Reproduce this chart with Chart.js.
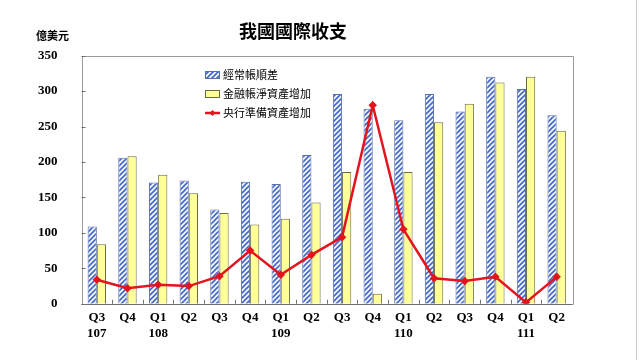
<!DOCTYPE html>
<html>
<head>
<meta charset="utf-8">
<script src="https://cdn.jsdelivr.net/npm/chart.js@4"></script>
<style>
  html, body { margin: 0; padding: 0; background: #fff; }
  #wrap { width: 640px; height: 360px; position: relative; }
  #edge { position: absolute; left: 636px; top: 0; width: 1px; height: 360px; background: #c8c8c8; }
</style>
</head>
<body>
<div id="wrap"><canvas id="bopChart" width="640" height="360"></canvas><div id="edge"></div></div>
<script>
// quarters and ROC years
const quarters = ['Q3', 'Q4', 'Q1', 'Q2', 'Q3', 'Q4', 'Q1', 'Q2', 'Q3', 'Q4', 'Q1', 'Q2', 'Q3', 'Q4', 'Q1', 'Q2'];
const years = ['107', '', '108', '', '', '', '109', '', '', '', '110', '', '', '', '111', ''];
// 經常帳順差
const currentAccount = [109, 206, 171, 174, 133, 172, 169, 210, 296, 275, 259, 296, 271, 320, 303, 266];
// 金融帳淨資產增加
const financialAccount = [84, 208, 182, 156, 128, 112, 120, 143, 186, 14, 186, 256, 282, 312, 320, 244];
// 央行準備資產增加
const reserveAssets = [34, 22, 27, 25, 39, 75, 41, 69, 94, 280, 105, 36, 32, 38, 2, 38];
const yTicks = [0, 50, 100, 150, 200, 250, 300, 350];

const labels = quarters.map(function (q, i) { return years[i] ? [q, years[i]] : [q]; });

// hatched fill for the first series
function makeHatch() {
    const c = document.createElement('canvas');
    c.width = 5; c.height = 5;
    const g = c.getContext('2d');
    g.fillStyle = '#f2f5fc';
    g.fillRect(0, 0, 5, 5);
    g.strokeStyle = '#4468c8';
    g.lineWidth = 1.6;
    g.beginPath();
    g.moveTo(-1, 6); g.lineTo(6, -1);
    g.moveTo(-1, 1); g.lineTo(1, -1);
    g.moveTo(4, 6); g.lineTo(6, 4);
    g.stroke();
    return g.createPattern(c, 'repeat');
}
const hatch = makeHatch();

const serif = "'Liberation Serif', 'Times New Roman', serif";
const cjk = "'Noto Sans CJK TC', 'Noto Sans CJK SC', sans-serif";

const framePlugin = {
    id: 'frame',
    beforeDatasetsDraw: function (chart) {
        const c = chart.ctx;
        const a = chart.chartArea;
        c.save();
        c.lineWidth = 1;
        c.strokeStyle = '#9a9a9a';
        c.beginPath();
        c.rect(Math.round(a.left) + 0.5, Math.round(a.top) + 0.5,
            Math.round(a.right - a.left), Math.round(a.bottom - a.top));
        c.stroke();
        // small inner ticks
        c.strokeStyle = '#707070';
        c.beginPath();
        const y = chart.scales.y;
        yTicks.forEach(function (v) {
            const py = Math.round(y.getPixelForValue(v)) + 0.5;
            c.moveTo(a.left, py); c.lineTo(a.left + 4, py);
        });
        const n = quarters.length;
        const step = (a.right - a.left) / n;
        for (let i = 1; i < n; i++) {
            const px = Math.round(a.left + step * i) + 0.5;
            c.moveTo(px, a.bottom); c.lineTo(px, a.bottom - 4);
        }
        c.stroke();
        c.restore();
    },
    afterDraw: function (chart) {
        const c = chart.ctx;
        const a = chart.chartArea;
        c.save();
        // bottom axis line over the bars
        c.strokeStyle = '#707070';
        c.lineWidth = 1;
        c.beginPath();
        c.moveTo(a.left, Math.round(a.bottom) + 0.5);
        c.lineTo(a.right, Math.round(a.bottom) + 0.5);
        c.stroke();

        // unit label
        c.fillStyle = '#000';
        c.font = 'bold 11px ' + cjk;
        c.textAlign = 'left';
        c.textBaseline = 'middle';
        c.fillText('億美元', 36, 36);

        // legend inside plot area: bars first, then the line
        const lx = 205, rows = [75, 94, 113];
        c.font = '11px ' + cjk;
        const order = [1, 2, 0];
        order.forEach(function (di, i) {
            const ds = chart.data.datasets[di];
            const ry = rows[i];
            if (ds.type === 'line') {
                c.strokeStyle = ds.borderColor;
                c.lineWidth = 2.5;
                c.beginPath();
                c.moveTo(lx, ry); c.lineTo(lx + 15, ry);
                c.stroke();
                c.fillStyle = ds.borderColor;
                c.beginPath();
                c.moveTo(lx + 7.5, ry - 3); c.lineTo(lx + 10.5, ry);
                c.lineTo(lx + 7.5, ry + 3); c.lineTo(lx + 4.5, ry);
                c.fill();
            } else {
                c.fillStyle = ds.backgroundColor;
                c.fillRect(lx, ry - 4, 15, 8);
                c.strokeStyle = ds.borderColor;
                c.lineWidth = 1;
                c.strokeRect(lx + 0.5, ry - 3.5, 14, 7);
            }
            c.fillStyle = '#000';
            c.fillText(ds.label, lx + 18, ry);
        });
        c.restore();
    }
};

const ctx = document.getElementById('bopChart').getContext('2d');
const bopChart = new Chart(ctx, {
    data: {
        labels: labels,
        datasets: [{
            type: 'line',
            label: '央行準備資產增加',
            data: reserveAssets,
            borderColor: '#e3141e',
            backgroundColor: '#e3141e',
            borderWidth: 2.5,
            pointStyle: 'rectRot',
            pointRadius: 2.5,
            tension: 0,
            order: 0
        }, {
            type: 'bar',
            label: '經常帳順差',
            data: currentAccount,
            backgroundColor: hatch,
            borderColor: '#5a6fa8',
            borderWidth: 1,
            order: 1
        }, {
            type: 'bar',
            label: '金融帳淨資產增加',
            data: financialAccount,
            backgroundColor: '#ffff99',
            borderColor: '#6b6b40',
            borderWidth: 1,
            order: 1
        }]
    },
    options: {
        responsive: false,
        animation: false,
        datasets: {
            bar: { categoryPercentage: 0.6, barPercentage: 1.0 }
        },
        layout: { padding: { left: 14, right: 68, top: 0, bottom: 13 } },
        plugins: {
            legend: { display: false },
            tooltip: { enabled: false },
            title: {
                display: true,
                text: '我國國際收支',
                color: '#000',
                font: { family: cjk, size: 18, weight: 'bold' },
                padding: { top: 20, bottom: 14 }
            }
        },
        scales: {
            x: {
                grid: { display: false, drawTicks: false },
                border: { display: false },
                ticks: {
                    color: '#000',
                    font: { family: serif, size: 13, weight: 'bold' },
                    maxRotation: 0,
                    autoSkip: false,
                    padding: 6
                }
            },
            y: {
                min: 0,
                max: 350,
                grid: { display: false, drawTicks: false },
                border: { display: false },
                afterBuildTicks: function (axis) {
                    axis.ticks = yTicks.map(function (v) { return { value: v }; });
                },
                ticks: {
                    color: '#000',
                    font: { family: serif, size: 13, weight: 'bold' },
                    padding: 24
                }
            }
        }
    },
    plugins: [framePlugin]
});
</script>
</body>
</html>
